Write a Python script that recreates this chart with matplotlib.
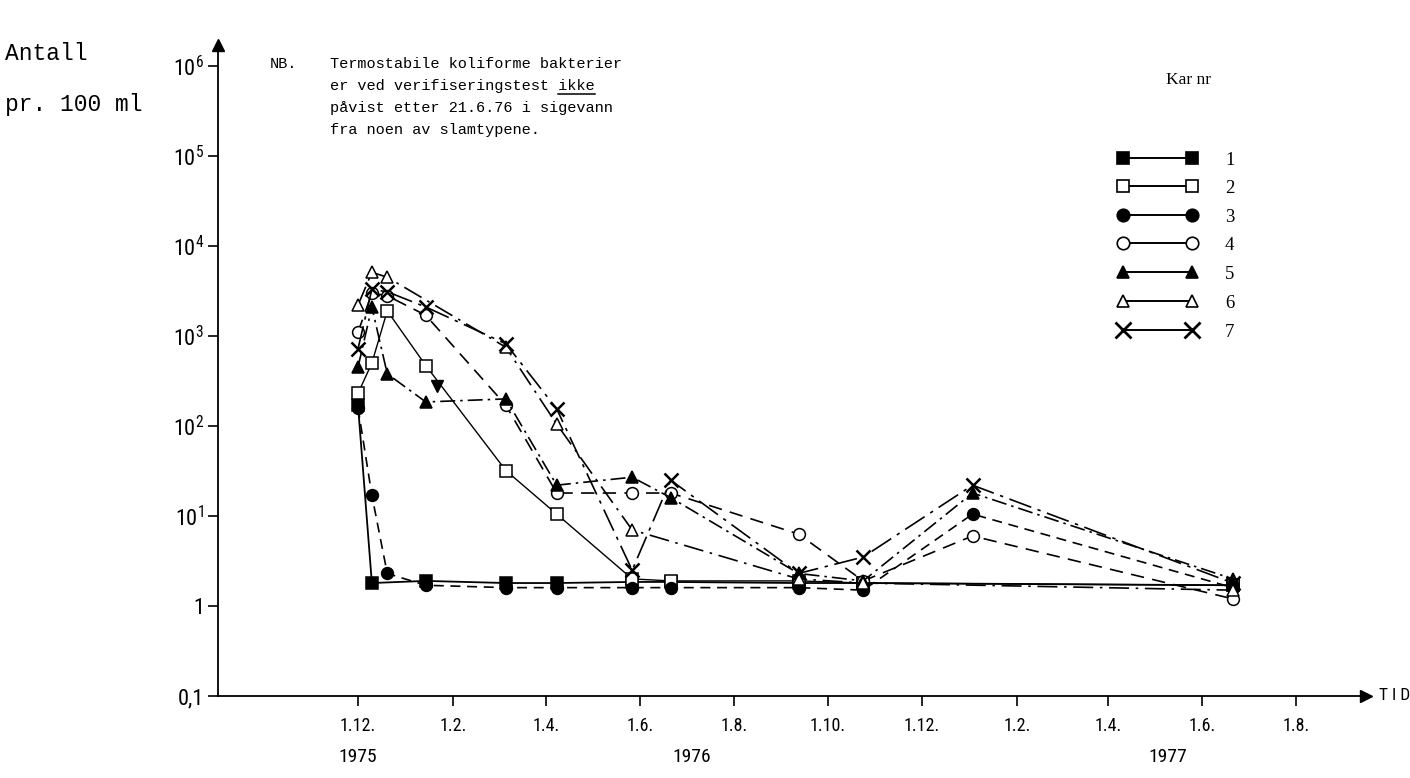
import matplotlib
matplotlib.use("Agg")
import matplotlib.pyplot as plt
import matplotlib.dates as mdates
import matplotlib.transforms as mtransforms
import numpy as np

# Sampling dates (day.month.year) shared by all basins
prove_datoer = ["1975-12-01", "1975-12-10", "1975-12-20", "1976-01-14", "1976-03-06",
                "1976-04-08", "1976-05-27", "1976-06-21", "1976-09-12", "1976-10-24",
                "1977-01-03", "1977-06-21"]

# Thermostable coliforms per 100 ml for each basin (None = no sample)
kar1 = [170, 1.8, None, 1.9, 1.8, 1.8, 1.85, 1.85, 1.8, 1.8, None, 1.7]
kar2 = [230, 500, 1900, 470, 32, 10.5, 2.0, 1.9, 1.9, 1.8, None, 1.7]
kar3 = [160, 17, 2.3, 1.7, 1.6, 1.6, 1.6, 1.6, 1.6, 1.5, 10.5, 1.6]
kar4 = [1100, 3000, 2800, 1700, 170, 18, 18, 18, 6.3, 1.9, 6.0, 1.2]
kar5 = [450, 2100, 380, 185, 200, 22, 27, 16, 2.3, 1.9, 18, 2.0]
kar6 = [2200, 5100, 4500, None, 750, 105, 7.0, None, 2.0, 1.8, None, 1.5]
kar7 = [720, 3300, 3100, 2100, 820, 155, 2.5, 25, 2.3, 3.5, 22, 1.8]

# Single loose reading (filled, pointing down) in early 1976
ekstra_dato = ["1976-01-21"]
ekstra_verdi = [280]

kar_navn = ["1", "2", "3", "4", "5", "6", "7"]

y_ticks = [0.1, 1, 10, 100, 1e3, 1e4, 1e5, 1e6]
y_labels = ["0,1", "1", r"$\mathregular{10^1}$", r"$\mathregular{10^2}$", r"$\mathregular{10^3}$",
            r"$\mathregular{10^4}$", r"$\mathregular{10^5}$", r"$\mathregular{10^6}$"]

x_tick_datoer = ["1975-12-01", "1976-02-01", "1976-04-01", "1976-06-01", "1976-08-01",
                 "1976-10-01", "1976-12-01", "1977-02-01", "1977-04-01", "1977-06-01",
                 "1977-08-01"]
x_labels = ["1.12.", "1.2.", "1.4.", "1.6.", "1.8.", "1.10.", "1.12.", "1.2.", "1.4.",
            "1.6.", "1.8."]
aar = ["1975", "1976", "1977"]
aar_pos = ["1975-12-01", "1976-07-05", "1977-05-10"]

W, H, DPI = 1410, 778, 100
NARROW = ["Liberation Sans Narrow", "Roboto Condensed", "Roboto", "DejaVu Sans"]
MONO = ["Liberation Mono", "DejaVu Sans Mono"]
SERIF = ["Liberation Serif", "DejaVu Serif"]
plt.rcParams["mathtext.fontset"] = "custom"
plt.rcParams["mathtext.rm"] = "Liberation Sans Narrow"

fig = plt.figure(figsize=(W / DPI, H / DPI), dpi=DPI)

# axes frame in pixel terms
x0_px, x1_px, ytop_px, ybot_px = 218, 1366, 45, 696
ax = fig.add_axes([x0_px / W, 1 - ybot_px / H, (x1_px - x0_px) / W, (ybot_px - ytop_px) / H])

d = lambda s: mdates.date2num(np.datetime64(s))
t0 = d("1975-12-01")
px_per_day = (1296 - 358) / 609.0
ax.set_xlim(t0 - (358 - x0_px) / px_per_day, t0 + (x1_px - 358) / px_per_day)
decade = (ybot_px - 66) / 7.0
ax.set_yscale("log")
ax.set_ylim(0.1, 10 ** (6 + (66 - ytop_px) / decade))

stiler = [
    dict(marker="s", mfc="black", ls="-", lw=1.3, ms=8),
    dict(marker="s", mfc="white", ls="-", lw=1.0, ms=8),
    dict(marker="o", mfc="black", ls=(0, (6, 4)), lw=1.2, ms=8.5),
    dict(marker="o", mfc="white", ls=(0, (8, 5)), lw=1.2, ms=8.5),
    dict(marker="^", mfc="black", ls=(0, (9, 3, 1.5, 3)), lw=1.2, ms=8.5),
    dict(marker="^", mfc="white", ls=(0, (12, 4, 1.5, 4)), lw=1.2, ms=8.5),
    dict(marker="x", mfc="black", ls=(0, (14, 4, 2, 4)), lw=1.2, ms=10),
]
serier = [kar1, kar2, kar3, kar4, kar5, kar6, kar7]
datoer = np.array(prove_datoer, dtype="datetime64[D]")

for verdier, st in zip(serier, stiler):
    v = np.array([np.nan if x is None else x for x in verdier], dtype=float)
    ok = ~np.isnan(v)
    mew = 1.8 if st["marker"] == "x" else 1.1
    ax.plot(datoer[ok], v[ok], color="black", marker=st["marker"], mfc=st["mfc"],
            mec="black", ms=st["ms"], mew=mew, ls=st["ls"], lw=st["lw"], zorder=3)

ax.plot(np.array(ekstra_dato, dtype="datetime64[D]"), ekstra_verdi, ls="none",
        marker="v", color="black", ms=8.5, zorder=3)

# axes styling: only left and bottom, with arrow heads
for s in ("top", "right"):
    ax.spines[s].set_visible(False)
for s in ("left", "bottom"):
    ax.spines[s].set_linewidth(1.3)
ax.plot(1, 0, ">", color="black", ms=9, transform=ax.transAxes, clip_on=False)
ax.plot(0, 1, "^", color="black", ms=9, transform=ax.transAxes, clip_on=False)

ax.set_yticks(y_ticks)
ax.set_yticklabels(y_labels)
ax.yaxis.set_minor_locator(matplotlib.ticker.NullLocator())
ax.set_xticks([d(s) for s in x_tick_datoer])
ax.set_xticklabels(x_labels)
ax.tick_params(axis="both", direction="out", length=7, width=1.2)
ax.tick_params(axis="x", pad=8, labelsize=13)
ax.tick_params(axis="y", pad=3, labelsize=16)
for lab in ax.get_xticklabels() + ax.get_yticklabels():
    lab.set_family(NARROW)

aar_trans = mtransforms.blended_transform_factory(ax.transData, fig.transFigure)
for a, p in zip(aar, aar_pos):
    ax.text(d(p), 1 - 757 / H, a, transform=aar_trans, ha="center", va="center",
            fontsize=14, family=NARROW)
fig.text(1379 / W, 1 - ybot_px / H, "T I D", ha="left", va="center", fontsize=12.5, family=NARROW)

# y label
fig.text(5 / W, 1 - 53 / H, "Antall", fontsize=16.5, family=MONO, va="center")
fig.text(5 / W, 1 - 104 / H, "pr. 100 ml", fontsize=16.5, family=MONO, va="center")

# note
nb_linjer = ["Termostabile koliforme bakterier",
             "er ved verifiseringstest ikke",
             "påvist etter 21.6.76 i sigevann",
             "fra noen av slamtypene."]
nb_y = [64, 86, 108, 130]
fig.text(270 / W, 1 - nb_y[0] / H, "NB.", fontsize=11, family=MONO, va="center")
tekster = []
for linje, yy in zip(nb_linjer, nb_y):
    tekster.append(fig.text(330 / W, 1 - yy / H, linje, fontsize=11, family=MONO, va="center"))

# underline the word "ikke"
fig.canvas.draw()
r = fig.canvas.get_renderer()
bb = tekster[1].get_window_extent(r)
n = len(nb_linjer[1])
cw = bb.width / n
start = nb_linjer[1].index("ikke")
ux0 = (bb.x0 + start * cw) / W
ux1 = (bb.x0 + (start + 4) * cw) / W
uy = (bb.y0 - 1) / H
fig.add_artist(plt.Line2D([ux0, ux1], [uy, uy], color="black", lw=1.1, transform=fig.transFigure))

# legend: marker at both ends of a short solid line
fig.text(1188 / W, 1 - 80 / H, "Kar nr", fontsize=12.5, family=SERIF, ha="center", va="center")
leg_y = [158, 186, 215, 243, 272, 301, 330]
lax = fig.add_axes([0, 0, 1, 1], facecolor="none")
lax.set_xlim(0, W)
lax.set_ylim(H, 0)
lax.axis("off")
for navn, st, yy in zip(kar_navn, stiler, leg_y):
    ms = 12 if st["marker"] == "x" else 9
    mew = 2 if st["marker"] == "x" else 1.2
    lax.plot([1123, 1192], [yy, yy], color="black", lw=1.4, marker=st["marker"], mfc=st["mfc"],
             mec="black", ms=ms, mew=mew)
    lax.text(1225, yy + 2, navn, fontsize=13.5, family=SERIF, va="center")

fig.savefig("out.png", dpi=DPI)
